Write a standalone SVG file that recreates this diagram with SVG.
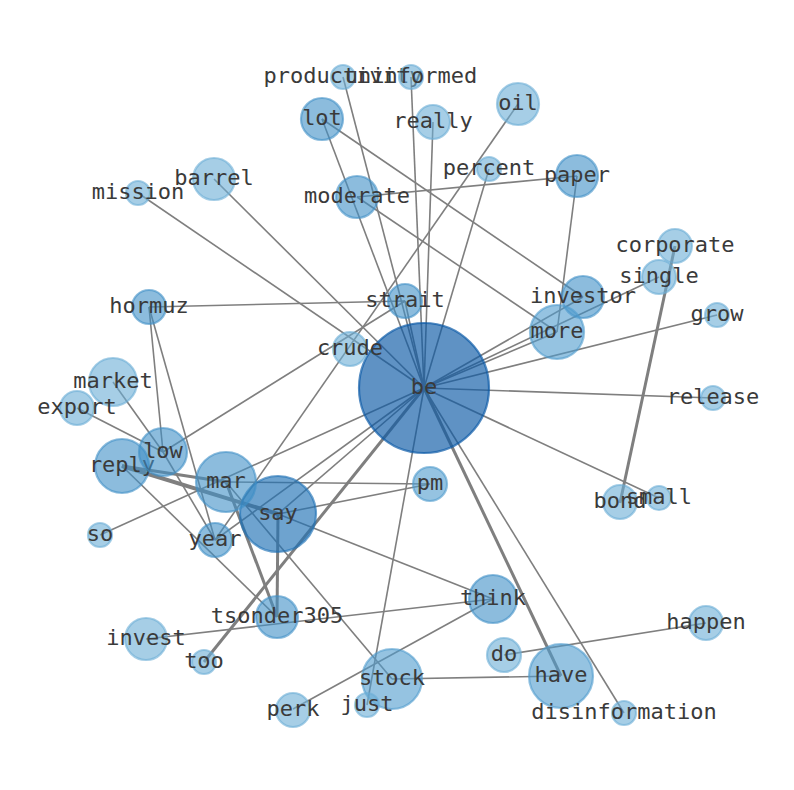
<svg xmlns="http://www.w3.org/2000/svg" width="794" height="790" viewBox="0 0 794 790">
<style>
.e{stroke:#7f7f7f;stroke-width:1.6;fill:none}
.w3{stroke-width:3}
.w4{stroke-width:4}
circle{stroke-width:2.2}
.c1 circle{fill:#6baed6;stroke:#6baed6;fill-opacity:.6;stroke-opacity:.6}
.c15 circle{fill:#4f9bcd;stroke:#4f9bcd;fill-opacity:.6;stroke-opacity:.6}
.c2 circle{fill:#3f8fc7;stroke:#3f8fc7;fill-opacity:.6;stroke-opacity:.6}
.c3 circle{fill:#2171b5;stroke:#2171b5;fill-opacity:.65;stroke-opacity:.65}
.c4 circle{fill:#0c5aa6;stroke:#0c5aa6;fill-opacity:.66;stroke-opacity:.7}
text{font-family:"DejaVu Sans Mono","Liberation Mono",monospace;font-size:22px;fill:#3a3a3a;text-anchor:middle}
</style>
<rect width="794" height="790" fill="#fff"/>
<g id="edges">
<line class="e" x1="424" y1="388" x2="138" y2="193"/>
<line class="e" x1="424" y1="388" x2="214" y2="179"/>
<line class="e" x1="424" y1="388" x2="322" y2="119"/>
<line class="e" x1="424" y1="388" x2="343" y2="77"/>
<line class="e" x1="424" y1="388" x2="411" y2="77"/>
<line class="e" x1="424" y1="388" x2="433" y2="122"/>
<line class="e" x1="424" y1="388" x2="489" y2="169"/>
<line class="e" x1="424" y1="388" x2="405" y2="301"/>
<line class="e" x1="424" y1="388" x2="557" y2="332"/>
<line class="e" x1="424" y1="388" x2="583" y2="297"/>
<line class="e" x1="424" y1="388" x2="659" y2="277"/>
<line class="e" x1="424" y1="388" x2="717" y2="315"/>
<line class="e" x1="424" y1="388" x2="713" y2="398"/>
<line class="e" x1="424" y1="388" x2="659" y2="498"/>
<line class="e" x1="424" y1="388" x2="624" y2="713"/>
<line class="e w3" x1="424" y1="388" x2="561" y2="676"/>
<line class="e" x1="424" y1="388" x2="367" y2="705"/>
<line class="e" x1="424" y1="388" x2="278" y2="514"/>
<line class="e" x1="424" y1="388" x2="215" y2="540"/>
<line class="e w3" x1="424" y1="388" x2="204" y2="662"/>
<line class="e" x1="424" y1="388" x2="100" y2="535"/>
<line class="e" x1="322" y1="119" x2="583" y2="297"/>
<line class="e" x1="357" y1="197" x2="577" y2="176"/>
<line class="e" x1="357" y1="197" x2="557" y2="332"/>
<line class="e" x1="577" y1="176" x2="557" y2="332"/>
<line class="e" x1="518" y1="104" x2="215" y2="540"/>
<line class="e" x1="149" y1="307" x2="405" y2="301"/>
<line class="e" x1="149" y1="307" x2="163" y2="452"/>
<line class="e" x1="149" y1="307" x2="215" y2="540"/>
<line class="e" x1="163" y1="452" x2="405" y2="301"/>
<line class="e" x1="113" y1="382" x2="163" y2="452"/>
<line class="e" x1="77" y1="408" x2="163" y2="452"/>
<line class="e" x1="163" y1="452" x2="215" y2="540"/>
<line class="e w4" x1="122" y1="466" x2="278" y2="514"/>
<line class="e w3" x1="122" y1="466" x2="226" y2="482"/>
<line class="e" x1="122" y1="466" x2="277" y2="617"/>
<line class="e" x1="226" y1="482" x2="430" y2="484"/>
<line class="e" x1="226" y1="482" x2="392" y2="679"/>
<line class="e w3" x1="226" y1="482" x2="277" y2="617"/>
<line class="e" x1="278" y1="514" x2="430" y2="484"/>
<line class="e" x1="278" y1="514" x2="493" y2="599"/>
<line class="e w3" x1="278" y1="514" x2="277" y2="617"/>
<line class="e" x1="146" y1="639" x2="493" y2="599"/>
<line class="e" x1="293" y1="709" x2="493" y2="599"/>
<line class="e" x1="392" y1="679" x2="561" y2="676"/>
<line class="e" x1="504" y1="655" x2="706" y2="623"/>
<line class="e w3" x1="675" y1="246" x2="620" y2="503"/>
</g>
<g id="n-be" class="c4"><circle cx="424" cy="388" r="65"/><text x="424" y="394">be</text></g>
<g id="n-say" class="c3"><circle cx="278" cy="514" r="38"/><text x="278" y="520">say</text></g>
<g id="n-mar" class="c2"><circle cx="226" cy="482" r="30"/><text x="226" y="488">mar</text></g>
<g id="n-reply" class="c2"><circle cx="122" cy="466" r="27"/><text x="122" y="472">reply</text></g>
<g id="n-low" class="c2"><circle cx="163" cy="452" r="24"/><text x="163" y="458">low</text></g>
<g id="n-year" class="c2"><circle cx="215" cy="540" r="17"/><text x="215" y="546">year</text></g>
<g id="n-so" class="c1"><circle cx="100" cy="535" r="12"/><text x="100" y="541">so</text></g>
<g id="n-tsonder305" class="c2"><circle cx="277" cy="617" r="21"/><text x="277" y="623">tsonder305</text></g>
<g id="n-invest" class="c1"><circle cx="146" cy="639" r="21"/><text x="146" y="645">invest</text></g>
<g id="n-too" class="c1"><circle cx="204" cy="662" r="12"/><text x="204" y="668">too</text></g>
<g id="n-stock" class="c15"><circle cx="392" cy="679" r="30"/><text x="392" y="685">stock</text></g>
<g id="n-just" class="c1"><circle cx="367" cy="705" r="12"/><text x="367" y="711">just</text></g>
<g id="n-perk" class="c1"><circle cx="293" cy="710" r="17"/><text x="293" y="716">perk</text></g>
<g id="n-think" class="c2"><circle cx="493" cy="599" r="24"/><text x="493" y="605">think</text></g>
<g id="n-do" class="c1"><circle cx="504" cy="655" r="17"/><text x="504" y="661">do</text></g>
<g id="n-have" class="c15"><circle cx="561" cy="676" r="32"/><text x="561" y="682">have</text></g>
<g id="n-disinformation" class="c1"><circle cx="624" cy="713" r="12"/><text x="624" y="719">disinformation</text></g>
<g id="n-happen" class="c1"><circle cx="706" cy="623" r="17"/><text x="706" y="629">happen</text></g>
<g id="n-pm" class="c15"><circle cx="430" cy="484" r="17"/><text x="430" y="490">pm</text></g>
<g id="n-bond" class="c1"><circle cx="620" cy="502" r="17"/><text x="620" y="508">bond</text></g>
<g id="n-small" class="c1"><circle cx="659" cy="498" r="12"/><text x="659" y="504">small</text></g>
<g id="n-release" class="c1"><circle cx="713" cy="398" r="12"/><text x="713" y="404">release</text></g>
<g id="n-grow" class="c1"><circle cx="717" cy="315" r="12"/><text x="717" y="321">grow</text></g>
<g id="n-single" class="c1"><circle cx="659" cy="277" r="17"/><text x="659" y="283">single</text></g>
<g id="n-corporate" class="c1"><circle cx="675" cy="246" r="17"/><text x="675" y="252">corporate</text></g>
<g id="n-investor" class="c2"><circle cx="583" cy="297" r="21"/><text x="583" y="303">investor</text></g>
<g id="n-more" class="c15"><circle cx="557" cy="332" r="27"/><text x="557" y="338">more</text></g>
<g id="n-paper" class="c2"><circle cx="577" cy="176" r="21"/><text x="577" y="182">paper</text></g>
<g id="n-percent" class="c1"><circle cx="489" cy="169" r="12"/><text x="489" y="175">percent</text></g>
<g id="n-oil" class="c1"><circle cx="518" cy="104" r="21"/><text x="518" y="110">oil</text></g>
<g id="n-really" class="c1"><circle cx="433" cy="122" r="17"/><text x="433" y="128">really</text></g>
<g id="n-productivity" class="c1"><circle cx="343" cy="77" r="12"/><text x="343" y="83">productivity</text></g>
<g id="n-uninformed" class="c1"><circle cx="411" cy="77" r="12"/><text x="411" y="83">uninformed</text></g>
<g id="n-lot" class="c2"><circle cx="322" cy="119" r="21"/><text x="322" y="125">lot</text></g>
<g id="n-moderate" class="c2"><circle cx="357" cy="197" r="21"/><text x="357" y="203">moderate</text></g>
<g id="n-barrel" class="c1"><circle cx="214" cy="179" r="21"/><text x="214" y="185">barrel</text></g>
<g id="n-mission" class="c1"><circle cx="138" cy="193" r="12"/><text x="138" y="199">mission</text></g>
<g id="n-hormuz" class="c2"><circle cx="149" cy="307" r="17"/><text x="149" y="313">hormuz</text></g>
<g id="n-strait" class="c2"><circle cx="405" cy="301" r="17"/><text x="405" y="307">strait</text></g>
<g id="n-crude" class="c1"><circle cx="350" cy="349" r="17"/><text x="350" y="355">crude</text></g>
<g id="n-market" class="c1"><circle cx="113" cy="382" r="24"/><text x="113" y="388">market</text></g>
<g id="n-export" class="c1"><circle cx="77" cy="408" r="17"/><text x="77" y="414">export</text></g>
</svg>
